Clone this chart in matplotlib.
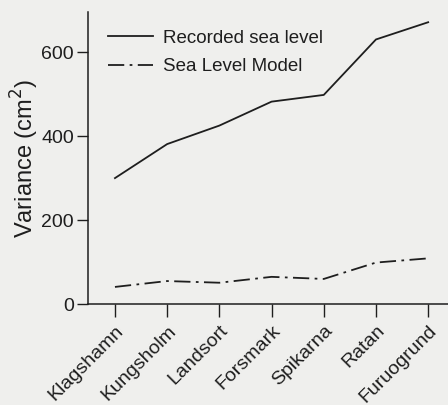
import matplotlib
matplotlib.use("Agg")
import matplotlib.pyplot as plt
import matplotlib.transforms as mtransforms

stations = ["Klagshamn", "Kungsholm", "Landsort", "Forsmark", "Spikarna", "Ratan", "Furuogrund"]
recorded = [300, 381, 425, 482, 498, 630, 671]
model = [41, 55, 51, 65, 60, 99, 109]
yticks = [0, 200, 400, 600]

plt.rcParams['font.family'] = ['Liberation Sans', 'DejaVu Sans']

bg = '#efefed'
ink = '#1e1e1e'

fig = plt.figure(figsize=(4.48, 4.05), dpi=100, facecolor=bg)
ax = fig.add_axes([0.196, 0.249, 0.804, 0.721], facecolor=bg)

xs = list(range(len(stations)))
ax.plot(xs, recorded, color=ink, lw=1.3, label='Recorded sea level')
ax.plot(xs, model, color=ink, lw=1.3, linestyle=(0, (9, 3, 1.5, 3)), label='Sea Level Model')

ax.set_xlim(-0.52, 6.38)
ax.set_ylim(0, 695)
ax.set_yticks(yticks)
ax.set_xticks(xs)
ax.set_xticklabels(stations, rotation=45, ha='right', rotation_mode='anchor', fontsize=14, color=ink)
# nudge rotated labels so their ends sit under the ticks
for lab in ax.get_xticklabels():
    lab.set_transform(lab.get_transform() + mtransforms.ScaledTranslation(4/72, -1/72, fig.dpi_scale_trans))
ax.tick_params(axis='y', direction='out', length=8, width=1, labelsize=14, colors=ink, pad=2)
ax.tick_params(axis='x', direction='out', length=9, width=1, colors=ink, pad=4)

for s in ['top', 'right']:
    ax.spines[s].set_visible(False)
for s in ['left', 'bottom']:
    ax.spines[s].set_color(ink)
    ax.spines[s].set_linewidth(1.1)

ax.set_ylabel('Variance (cm$^2$)', fontsize=17, color=ink, labelpad=0)

leg = ax.legend(loc='upper left', bbox_to_anchor=(0.02, 0.985), frameon=False, fontsize=13.5,
                handlelength=2.4, handletextpad=0.5, labelspacing=0.6, borderaxespad=0.3)
for t in leg.get_texts():
    t.set_color(ink)

fig.savefig('out.png', dpi=100, facecolor=bg)
